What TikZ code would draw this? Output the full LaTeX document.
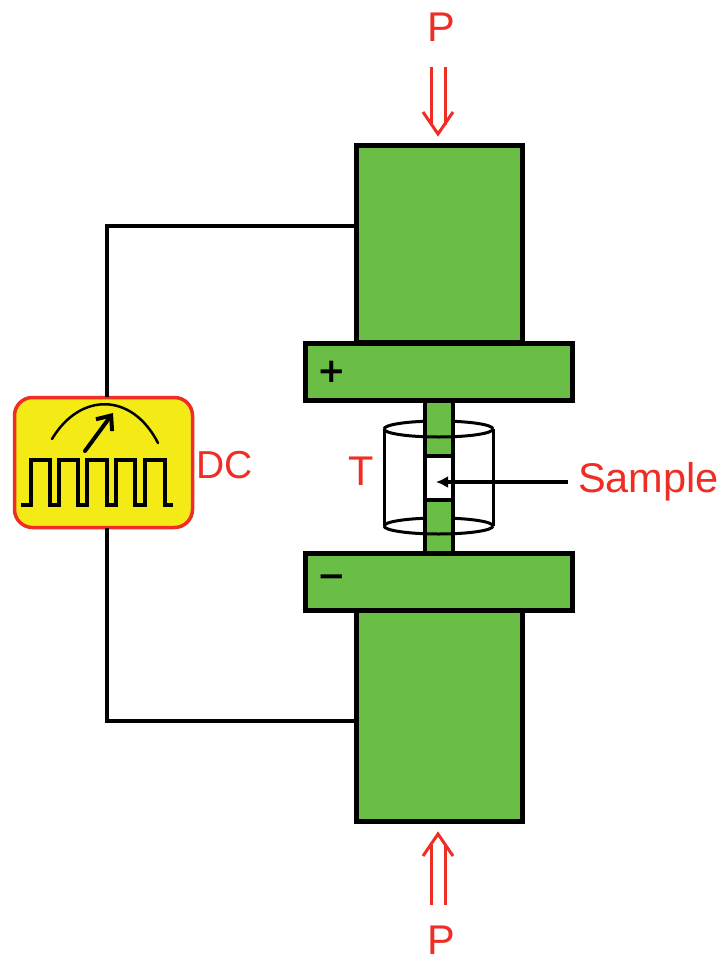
\documentclass[tikz,border=0pt]{standalone}
\usepackage{fontspec}
\setmainfont{Liberation Sans}
\newfontfamily\signfont{DejaVu Sans}
\usetikzlibrary{positioning, arrows.meta}
\definecolor{blockgreen}{HTML}{6ABD45}
\definecolor{labelred}{HTML}{EE2E24}
\definecolor{meteryellow}{HTML}{F4EB16}

\begin{document}
\begin{tikzpicture}[
        x = 1pt,
        y = -1pt,
        node distance = 0pt,
        block/.style = {rectangle, draw, fill = blockgreen, line width = 5pt, outer sep = 0pt, minimum width = 166pt},
        plate/.style = {block, minimum width = 267pt, minimum height = 57pt},
        column/.style = {rectangle, draw, fill = blockgreen, line width = 4pt, outer sep = 0pt, minimum width = 28pt},
        meter/.style = {rectangle, rounded corners = 18pt, draw = labelred, fill = meteryellow, line width = 3.5pt, outer sep = 0pt, minimum width = 178pt, minimum height = 130pt},
        wire/.style = {draw, line width = 3.5pt},
        shell/.style = {draw, line width = 3pt},
        force/.style = {draw = labelred, line width = 3pt, line join = miter},
        label/.style = {text = labelred, inner sep = 0pt, anchor = base, font = \fontsize{41.5}{41.5}\selectfont},
        sign/.style = {inner sep = 0pt, font = \signfont\bfseries\fontsize{34}{34}\selectfont}
      ]
      \useasboundingbox (0,0) rectangle (722,958);

      \draw[shell] (384,429) arc[start angle = 180, end angle = 0, x radius = 54.5pt, y radius = 8pt];
      \draw[shell] (384,526) arc[start angle = 180, end angle = 0, x radius = 54.5pt, y radius = 8pt];
      \draw[shell] (384,429) -- (384,526) (493,429) -- (493,526);

      \node[block, minimum height = 197pt] (upperblock) at (439,243.5) {};
      \node[plate, below = 1pt of upperblock] (plusplate) {};
      \node[column, minimum height = 56pt, below = of plusplate] (uppercolumn) {};
      \node[column, fill = white, minimum height = 44pt, below = of uppercolumn] (sample) {};
      \node[column, minimum height = 53pt, below = of sample] (lowercolumn) {};
      \node[plate, below = of lowercolumn] (minusplate) {};
      \node[block, minimum height = 211pt, below = of minusplate] (lowerblock) {};
      \draw[plate, draw, fill = none] (plusplate.south west) rectangle (plusplate.north east);
      \draw[plate, draw, fill = none] (minusplate.south west) rectangle (minusplate.north east);

      \draw[shell] (384,429) arc[start angle = 180, end angle = 360, x radius = 54.5pt, y radius = 8pt];
      \draw[shell] (384,526) arc[start angle = 180, end angle = 360, x radius = 54.5pt, y radius = 8pt];

      \node[sign] (plussign) at (332,372) {+};
      \node[sign] (minussign) at (332,581) {−};

      \node[meter] (dcmeter) at (103.5,462.5) {};
      \coordinate (topin) at (107,397);
      \coordinate (bottomin) at (107,528);
      \coordinate (topjoin) at (upperblock.west |- 0,226);
      \coordinate (bottomjoin) at (lowerblock.west |- 0,721);
      \draw[wire] (topjoin) -| (topin);
      \draw[wire] (bottomjoin) -| (bottomin);
      \draw[line width = 2.5pt, line cap = round] (52,439) .. controls (80,392) and (132,392) .. (158,443);
      \draw[line width = 4pt, line cap = round, -{Straight Barb[length = 12pt, width = 20pt, line width = 4pt]}] (85,451) -- (113,413);
      \draw[line width = 3.5pt, line join = miter] (21,505) -- (31,505) -- (31,460) -- (50,460) -- (50,505) -- (59,505) -- (59,460) -- (78,460) -- (78,505) -- (87,505) -- (87,460) -- (107,460) -- (107,505) -- (116,505) -- (116,460) -- (135,460) -- (135,505) -- (145,505) -- (145,460) -- (165,460) -- (165,505) -- (173,505);

      \node[label] (toplabel) at (441,42) {P};
      \node[label] (bottomlabel) at (441,954) {P};
      \node[label] (templabel) at (361,485) {T};
      \node[label, anchor = base west, font = \fontsize{39}{39}\selectfont] (dclabel) at (196,478) {DC};
      \node[label, anchor = base west] (samplelabel) at (578,492) {Sample};

      \coordinate (arrowstart) at (568,482);
      \coordinate (arrowtip) at (436,482);
      \draw[line width = 3.5pt, -{Latex[length = 12pt, width = 12pt]}] (arrowstart) -- (arrowtip);

      \draw[force, double = white, double distance = 11pt] (438,67) -- (438,125);
      \draw[force] (423,112) -- (438,134) -- (453,112);
      \draw[force, double = white, double distance = 11pt] (438,905) -- (438,845);
      \draw[force] (423,856) -- (438,834) -- (453,856);
    \end{tikzpicture}
\end{document}
